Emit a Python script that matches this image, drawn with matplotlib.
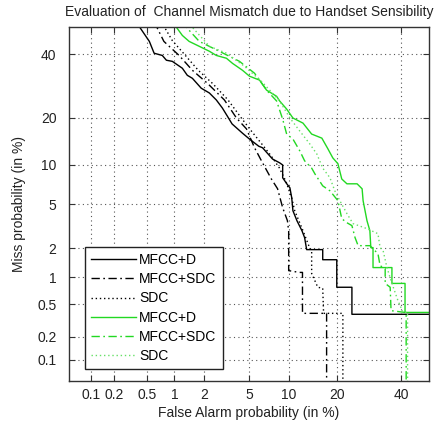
import math

import numpy as np
import matplotlib
matplotlib.use("Agg")
import matplotlib.pyplot as plt

plt.rcParams["font.family"] = ["Liberation Sans", "DejaVu Sans"]
plt.rcParams["font.size"] = 10

# DET axes (normal deviate scale), values in %
tick_values = [0.1, 0.2, 0.5, 1, 2, 5, 10, 20, 40]
tick_labels = ["0.1", "0.2", "0.5", "1", "2", "5", "10", "20", "40"]
axis_range = [0.05, 50]

# black: MFCC+D
fa_k_mfcc_d = [0.37, 0.53, 0.60, 0.74, 0.82, 0.95, 1.21, 1.36, 1.53, 1.87, 2.24, 2.60, 2.95,
               3.27, 3.6, 4.42, 5.05, 6.0, 6.42, 7.65, 8.63, 9.07, 9.07, 9.7, 10.2, 10.5, 10.7,
               11.4, 12.3, 12.8, 13.2, 16.6, 16.6, 20.0, 20.0, 24.1, 24.1, 99]
miss_k_mfcc_d = [52, 44.7, 40.4, 39.6, 37.9, 37.5, 35.1, 32.7, 31.7, 28.5, 27.0, 24.9, 22.6,
                 20.4, 18.4, 16.2, 14.9, 13.4, 13.1, 11.0, 10.35, 10.0, 8.07, 7.26, 6.76, 5.63, 4.39,
                 3.59, 2.92, 2.52, 1.93, 1.93, 1.53, 1.53, 0.78, 0.78, 0.38, 0.38]

# black: MFCC+SDC
fa_k_mfcc_sdc = [0.60, 0.77, 1.12, 1.53, 2.14, 3.08, 3.93, 4.77, 5.55, 6.42, 7.5, 8.33, 9.07,
                 9.8, 10.0, 10.0, 11.8, 12.4, 12.4, 17.5, 17.5]
miss_k_mfcc_sdc = [52, 44.7, 39.6, 34.4, 30.1, 24.9, 19.9, 17.2, 13.1, 10.35, 7.9, 6.65, 4.66,
                   3.6, 2.9, 1.18, 1.13, 1.13, 0.39, 0.39, 0.01]

# black: SDC
fa_k_sdc = [0.72, 0.95, 1.3, 1.75, 2.4, 3.3, 4.3, 5.3, 6.5, 7.5, 8.6, 9.6, 10.5, 11.0, 12.5,
            13.8, 14.2, 14.2, 15.5, 16.6, 16.8, 21.6, 21.6]
miss_k_sdc = [52, 45, 39.6, 34.4, 30, 25, 20, 16.5, 13.5, 11.5, 9.5, 7.5, 5.6, 4.4, 2.92,
              2.0, 1.89, 1.1, 0.78, 0.76, 0.39, 0.39, 0.01]

# green: MFCC+D
fa_g_mfcc_d = [0.95, 1.21, 1.42, 1.79, 2.24, 2.60, 3.21, 3.63, 4.42, 5.05, 6.08, 6.89, 8.2,
               8.63, 9.68, 10.7, 12.5, 14.2, 16.4, 17.8, 19.0, 20.3, 21.3, 22.7, 25.6, 27.1,
               27.4, 28.6, 29.5, 29.8, 30.5, 30.5, 36.8, 36.8, 41.4, 41.4, 99]
miss_g_mfcc_d = [52, 46.9, 44.7, 42.9, 41.1, 39.6, 38.6, 36.8, 34.4, 32.4, 31.1, 27.9, 26.0,
                 24.6, 22.3, 19.9, 18.6, 16.0, 15.1, 12.9, 11.2, 10.2, 7.9, 7.26, 7.26, 6.64,
                 5.33, 3.59, 2.92, 2.02, 2.02, 1.27, 1.27, 0.86, 0.86, 0.40, 0.40]

# green: MFCC+SDC
fa_g_mfcc_sdc = [1.18, 1.79, 2.77, 4.17, 5.55, 7.0, 8.2, 9.07, 9.68, 10.7, 11.9, 12.8, 14.2,
                 14.9, 16.6, 18.3, 20.3, 21.3, 22.7, 24.1, 25.0, 25.9, 29.5, 32.1, 32.8, 34.5,
                 34.5, 36.2, 36.5, 41.4, 41.8, 41.8]
miss_g_mfcc_sdc = [52, 44.7, 41.1, 37.5, 33.4, 27.6, 24.6, 19.6, 16.0, 14.9, 12.5, 10.7, 9.5,
                   8.6, 7.0, 6.4, 5.33, 3.75, 3.45, 3.25, 2.52, 2.11, 2.11, 1.76, 1.33, 1.24,
                   0.86, 0.78, 0.42, 0.40, 0.40, 0.01]

# green: SDC
fa_g_sdc = [1.36, 2.24, 3.21, 4.59, 6.3, 8.63, 10.2, 11.9, 13.8, 15.3, 16.6, 18.3, 19.5, 20.8,
            22.7, 24.4, 28.6, 32.1, 32.8, 33.8, 35.1, 36.8, 38.9, 40.7, 42.3, 42.3]
miss_g_sdc = [52, 42.9, 40.4, 35.8, 30.7, 24.6, 19.9, 16.7, 13.9, 11.9, 9.5, 8.07, 6.4, 5.33,
              4.15, 3.39, 3.05, 2.74, 2.02, 1.89, 1.27, 0.86, 0.55, 0.40, 0.40, 0.01]

labels = ["MFCC+D", "MFCC+SDC", "SDC", "MFCC+D", "MFCC+SDC", "SDC"]

# normal deviate transform built from a lookup table
z_grid = np.linspace(-6, 6, 6001)
cdf_grid = 0.5 * (1 + np.vectorize(math.erf)(z_grid / math.sqrt(2)))


def to_probit(p):
    return np.interp(np.asarray(p, dtype=float) / 100.0, cdf_grid, z_grid)


def from_probit(z):
    return 100.0 * np.interp(np.asarray(z, dtype=float), z_grid, cdf_grid)


green = "#22d822"
light_green = "#66e066"
dashdot = (0, (6, 2.5, 1.2, 2.5))
dotted = (0, (1, 2))

fig = plt.figure(figsize=(4.34, 4.23), dpi=100)
ax = fig.add_axes([0.159, 0.099, 0.829, 0.837])
ax.set_xscale("function", functions=(to_probit, from_probit))
ax.set_yscale("function", functions=(to_probit, from_probit))

series = [
    (fa_k_mfcc_d, miss_k_mfcc_d, "k", "-"),
    (fa_k_mfcc_sdc, miss_k_mfcc_sdc, "k", dashdot),
    (fa_k_sdc, miss_k_sdc, "k", dotted),
    (fa_g_mfcc_d, miss_g_mfcc_d, green, "-"),
    (fa_g_mfcc_sdc, miss_g_mfcc_sdc, green, dashdot),
    (fa_g_sdc, miss_g_sdc, light_green, dotted),
]
for (fa, miss, color, ls), label in zip(series, labels):
    ax.plot(fa, miss, color=color, linestyle=ls, linewidth=1.0, label=label)

ax.set_xlim(axis_range)
ax.set_ylim(axis_range)
ax.set_xticks(tick_values)
ax.set_xticklabels(tick_labels)
ax.set_yticks(tick_values)
ax.set_yticklabels(tick_labels)
ax.minorticks_off()
ax.tick_params(direction="in", top=True, right=True, length=4, colors="#333333",
               labelcolor="#222222")
ax.tick_params(axis="y", pad=9)
ax.tick_params(axis="x", pad=5)
ax.grid(True, color="#555555", linestyle=(0, (1, 3)), linewidth=0.8)
for s in ax.spines.values():
    s.set_color("#333333")
    s.set_linewidth(1.0)

ax.set_title("Evaluation of  Channel Mismatch due to Handset Sensibility", fontsize=10,
             pad=8, color="#222222")
ax.set_xlabel("False Alarm probability (in %)", color="#222222", labelpad=3)
ax.set_ylabel("Miss probability (in %)", color="#222222", labelpad=8)

leg = ax.legend(loc="lower left", bbox_to_anchor=(0.044, 0.034), fancybox=False,
                framealpha=1, edgecolor="#222222", handlelength=3.2, handletextpad=0.25,
                labelspacing=0.37, borderpad=0.45, borderaxespad=0)
leg.get_frame().set_linewidth(1.0)

fig.savefig("out.png", dpi=100)
